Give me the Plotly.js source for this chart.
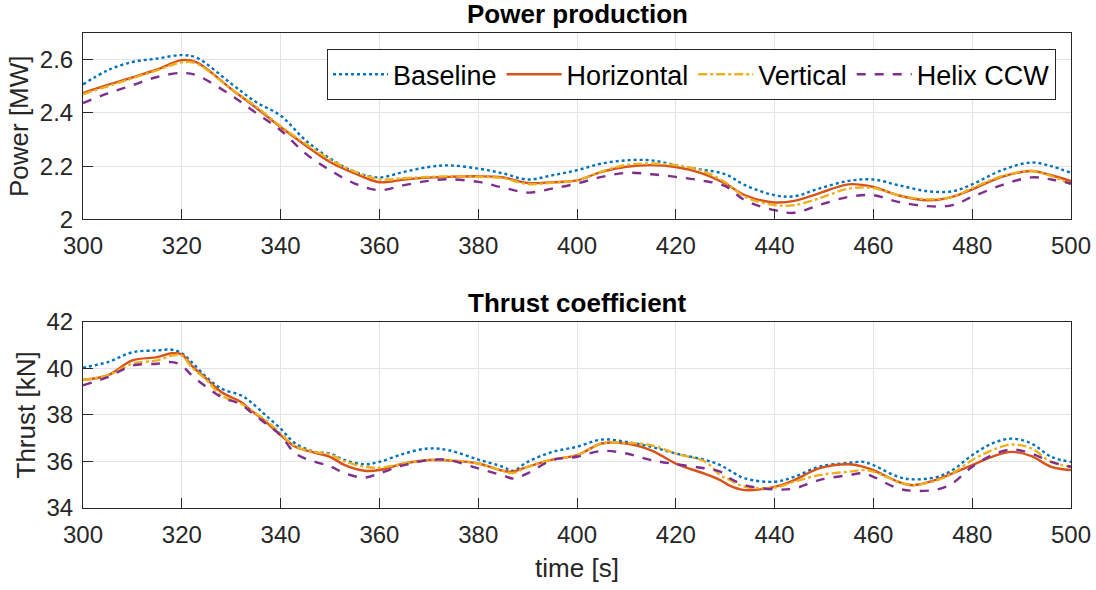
<!DOCTYPE html>
<html>
<head>
<meta charset="utf-8">
<script src="https://cdn.plot.ly/plotly-3.0.1.min.js"></script>
<style>html,body{margin:0;padding:0;background:#fff}#plot{width:1096px;height:590px}</style>
</head>
<body>
<div id="plot"></div>
<script>
// ---- Data ----
const timePower = [300,305,310,315,320,323,330,335,340,345,350,355,360,365,370,374,380,385,390,395,400,405,410,415,420,425,430,434,440,444,449,455,460,465,471,476,480,486,492,496,500];
const powerBaseline = [2.507,2.56,2.591,2.604,2.617,2.607,2.51,2.441,2.39,2.298,2.229,2.179,2.158,2.179,2.197,2.203,2.191,2.173,2.15,2.166,2.185,2.21,2.222,2.222,2.204,2.188,2.17,2.129,2.091,2.087,2.116,2.145,2.15,2.129,2.106,2.106,2.132,2.185,2.214,2.2,2.175];
const powerHorizontal = [2.475,2.505,2.533,2.563,2.598,2.59,2.49,2.42,2.347,2.279,2.216,2.173,2.14,2.15,2.157,2.16,2.162,2.158,2.137,2.14,2.147,2.179,2.198,2.204,2.197,2.175,2.135,2.091,2.064,2.07,2.098,2.132,2.122,2.091,2.072,2.085,2.113,2.16,2.182,2.166,2.144];
const powerVertical = [2.47,2.50,2.53,2.56,2.59,2.585,2.49,2.425,2.35,2.285,2.225,2.18,2.151,2.155,2.16,2.162,2.16,2.155,2.133,2.138,2.147,2.18,2.205,2.21,2.204,2.185,2.14,2.085,2.054,2.054,2.079,2.116,2.118,2.091,2.076,2.085,2.118,2.163,2.182,2.163,2.132];
const powerHelix = [2.437,2.473,2.504,2.535,2.55,2.541,2.466,2.40,2.335,2.248,2.185,2.135,2.11,2.129,2.145,2.151,2.141,2.12,2.101,2.116,2.135,2.16,2.175,2.17,2.16,2.147,2.125,2.072,2.035,2.025,2.054,2.085,2.091,2.066,2.05,2.054,2.085,2.129,2.158,2.15,2.135];

const timeThrust = [300,305,310,315,318,320,322,325,328,332,334,337,340,343,347,350,353,357,360,365,370,374,380,385,387,390,395,400,405,410,415,420,426,429,431,434,440,444,449,455,458,460,465,468,473,476,480,484,488,492,496,500];
const thrustBaseline = [40.03,40.27,40.69,40.77,40.8,40.65,40.27,39.62,39.13,38.84,38.55,37.98,37.41,36.77,36.41,36.34,36.06,35.88,35.98,36.34,36.56,36.48,36.08,35.77,35.6,35.98,36.41,36.63,36.94,36.84,36.63,36.34,36.06,35.84,35.6,35.27,35.13,35.34,35.77,35.94,35.98,35.84,35.34,35.23,35.34,35.63,36.27,36.77,36.98,36.77,36.2,35.98];
const thrustHorizontal = [39.51,39.7,40.34,40.48,40.65,40.6,40.12,39.55,38.98,38.55,38.2,37.7,37.13,36.63,36.37,36.2,35.84,35.6,35.63,35.91,36.06,36.04,35.91,35.6,35.56,35.77,36.08,36.27,36.77,36.77,36.48,35.91,35.46,35.2,34.95,34.77,34.91,35.2,35.7,35.88,35.77,35.63,35.13,34.98,35.23,35.49,35.84,36.2,36.41,36.23,35.77,35.63];
const thrustVertical = [39.5,39.7,40.2,40.34,40.55,40.55,40.05,39.5,38.84,38.48,38.2,37.77,37.2,36.65,36.4,36.31,36.0,35.77,35.73,35.91,36.06,36.06,35.91,35.6,35.5,35.77,36.08,36.27,36.77,36.8,36.7,36.34,35.98,35.41,35.2,34.91,34.88,35.13,35.41,35.56,35.63,35.56,35.13,34.98,35.2,35.49,36.06,36.48,36.73,36.56,35.98,35.77];
const thrustHelix = [39.27,39.62,40.12,40.2,40.27,40.12,39.7,39.2,38.77,38.45,38.12,37.63,37.13,36.34,35.98,35.8,35.49,35.31,35.49,35.84,36.06,36.06,35.7,35.4,35.27,35.49,36.06,36.2,36.45,36.34,36.06,35.88,35.7,35.56,35.27,34.98,34.8,34.84,35.2,35.41,35.49,35.34,34.84,34.74,34.8,35.06,35.77,36.27,36.51,36.34,35.98,35.77];

const seriesNames = ['Baseline','Horizontal','Vertical','Helix CCW'];
const xTicks = [300,320,340,360,380,400,420,440,460,480,500];
const powerTicks = [2,2.2,2.4,2.6];
const powerTickText = ['2','2.2','2.4','2.6'];
const thrustTicks = [34,36,38,40,42];

// ---- Styles ----
const colors = ['#0072BD','#D95319','#EDB120','#7E2F8E'];
const dashes = ['dot','solid','dashdot','dash'];
const FONT = 'Liberation Sans, Arial, Helvetica, sans-serif';

const powerSeries = [powerBaseline, powerHorizontal, powerVertical, powerHelix];
const thrustSeries = [thrustBaseline, thrustHorizontal, thrustVertical, thrustHelix];

const traces = [];
powerSeries.forEach((ys, i) => {
  traces.push({x: timePower, y: ys, type: 'scatter', mode: 'lines', name: seriesNames[i],
    xaxis: 'x', yaxis: 'y', showlegend: true,
    line: {color: colors[i], dash: dashes[i], width: 2.4, shape: 'spline', smoothing: 1}});
});
thrustSeries.forEach((ys, i) => {
  traces.push({x: timeThrust, y: ys, type: 'scatter', mode: 'lines', name: seriesNames[i],
    xaxis: 'x2', yaxis: 'y2', showlegend: false,
    line: {color: colors[i], dash: dashes[i], width: 2.4, shape: 'spline', smoothing: 1}});
});

const axisCommon = {
  showline: true, linecolor: '#262626', linewidth: 1, mirror: true,
  ticks: 'inside', ticklen: 10, tickcolor: '#262626',
  showgrid: true, gridcolor: '#e3e3e3', gridwidth: 1, zeroline: false,
  tickfont: {family: FONT, size: 24, color: '#262626'}
};
const titleFont = {family: FONT, size: 26, color: '#262626'};

const layout = {
  width: 1096, height: 590,
  margin: {l: 83, r: 25, t: 33, b: 82},
  paper_bgcolor: '#ffffff', plot_bgcolor: '#ffffff',
  font: {family: FONT, color: '#262626'},
  xaxis: Object.assign({}, axisCommon, {domain: [0, 1], range: [300, 500], tickvals: xTicks, anchor: 'y', ticklabelstandoff: 5}),
  yaxis: Object.assign({}, axisCommon, {domain: [0.6074, 1], range: [2, 2.7], tickvals: powerTicks, ticktext: powerTickText, anchor: 'x', ticklabelstandoff: 4,
    title: {text: 'Power [MW]', font: titleFont, standoff: 3}}),
  xaxis2: Object.assign({}, axisCommon, {domain: [0, 1], range: [300, 500], tickvals: xTicks, anchor: 'y2', ticklabelstandoff: 5,
    title: {text: 'time [s]', font: titleFont, standoff: 12}}),
  yaxis2: Object.assign({}, axisCommon, {domain: [0, 0.392], range: [34, 42], tickvals: thrustTicks, anchor: 'x2', ticklabelstandoff: 4,
    title: {text: 'Thrust [kN]', font: titleFont, standoff: 3}}),
  showlegend: true,
  legend: {orientation: 'h', x: 0.247, y: 0.966, xanchor: 'left', yanchor: 'top',
    bgcolor: '#ffffff', bordercolor: '#262626', borderwidth: 1,
    font: {family: FONT, size: 27, color: '#000000'}, itemwidth: 55, tracegroupgap: 0},
  annotations: [
    {text: '<b>Power production</b>', xref: 'paper', yref: 'paper', x: 0.5, y: 1, yshift: 2,
      xanchor: 'center', yanchor: 'bottom', showarrow: false, font: {family: FONT, size: 26, color: '#000'}},
    {text: '<b>Thrust coefficient</b>', xref: 'paper', yref: 'paper', x: 0.5, y: 0.392, yshift: 2,
      xanchor: 'center', yanchor: 'bottom', showarrow: false, font: {family: FONT, size: 26, color: '#000'}}
  ]
};

Plotly.newPlot('plot', traces, layout, {staticPlot: true, displayModeBar: false});
</script>
</body>
</html>
